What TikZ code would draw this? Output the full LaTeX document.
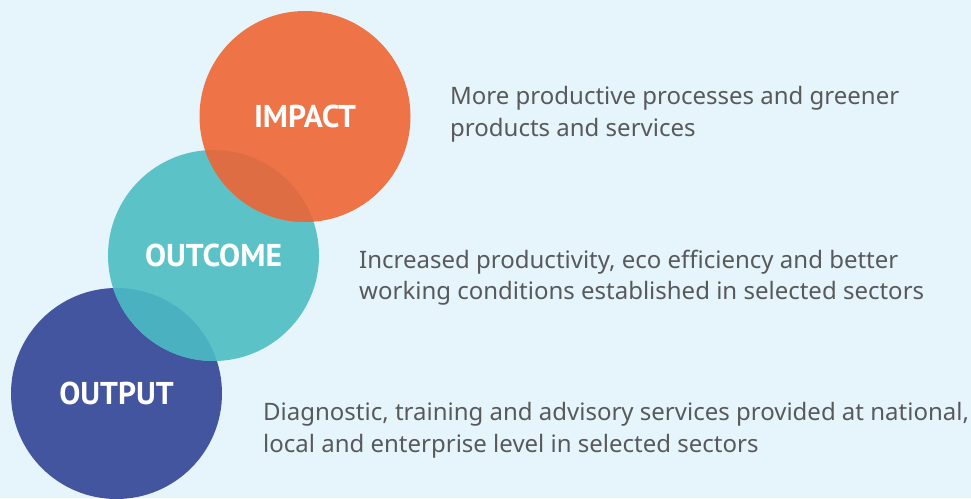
\documentclass[tikz,border=0pt]{standalone}
\usepackage{fontspec}
\setmainfont{Noto Sans}
\newfontfamily\labelfont{PT Sans}
\usetikzlibrary{calc}

\definecolor{bgblue}{HTML}{E6F5FC}
\definecolor{impactorange}{HTML}{EE7347}
\definecolor{outcometeal}{HTML}{5BC3C8}
\definecolor{outputblue}{HTML}{43559E}
\definecolor{orangeover}{HTML}{DE6D43}
\definecolor{tealover}{HTML}{49B1C0}
\definecolor{textgray}{HTML}{58595B}

\tikzset{
  ring/.style={circle, minimum size=211pt, inner sep=0pt,
    text=white, font=\labelfont\bfseries\fontsize{31.5}{33}\selectfont},
  blurb/.style={anchor=west, align=left, text=textgray, inner sep=0pt,
    font=\fontsize{24}{31.5}\selectfont}
}

\begin{document}
\begin{tikzpicture}[x=1pt, y=-1pt]
\useasboundingbox (0,0) rectangle (971,498);
\fill[bgblue] (0,0) rectangle (971,498);

\coordinate (outputc) at (116.5,393.5);
\coordinate (outcomec) at ($(outputc) + (97,-138)$);
\coordinate (impactc) at ($(outcomec) + (91.5,-139)$);

\node[ring, fill=outputblue] (output) at (outputc) {};
\node[ring, fill=outcometeal] (outcome) at (outcomec) {};
\begin{scope}
  \clip (output.center) circle (105.5pt);
  \fill[tealover] (outcome.center) circle (105.5pt);
\end{scope}
\node[ring, fill=impactorange] (impact) at (impactc) {};
\begin{scope}
  \clip (outcome.center) circle (105.5pt);
  \fill[orangeover] (impact.center) circle (105.5pt);
\end{scope}

\node[ring] at (output) {OUTPUT};
\node[ring] at (outcome) {OUTCOME};
\node[ring] at (impact) {IMPACT};

\node[blurb] (impacttext) at ($(impactc) + (145,-2)$)
  {More productive processes and greener\\products and services};
\node[blurb] (outcometext) at ($(outcomec) + (145.5,22)$)
  {Increased productivity, eco efficiency and better\\working conditions established in selected sectors};
\node[blurb] (outputtext) at ($(outputc) + (146.5,37)$)
  {Diagnostic, training and advisory services provided at national,\\local and enterprise level in selected sectors};

\end{tikzpicture}
\end{document}
